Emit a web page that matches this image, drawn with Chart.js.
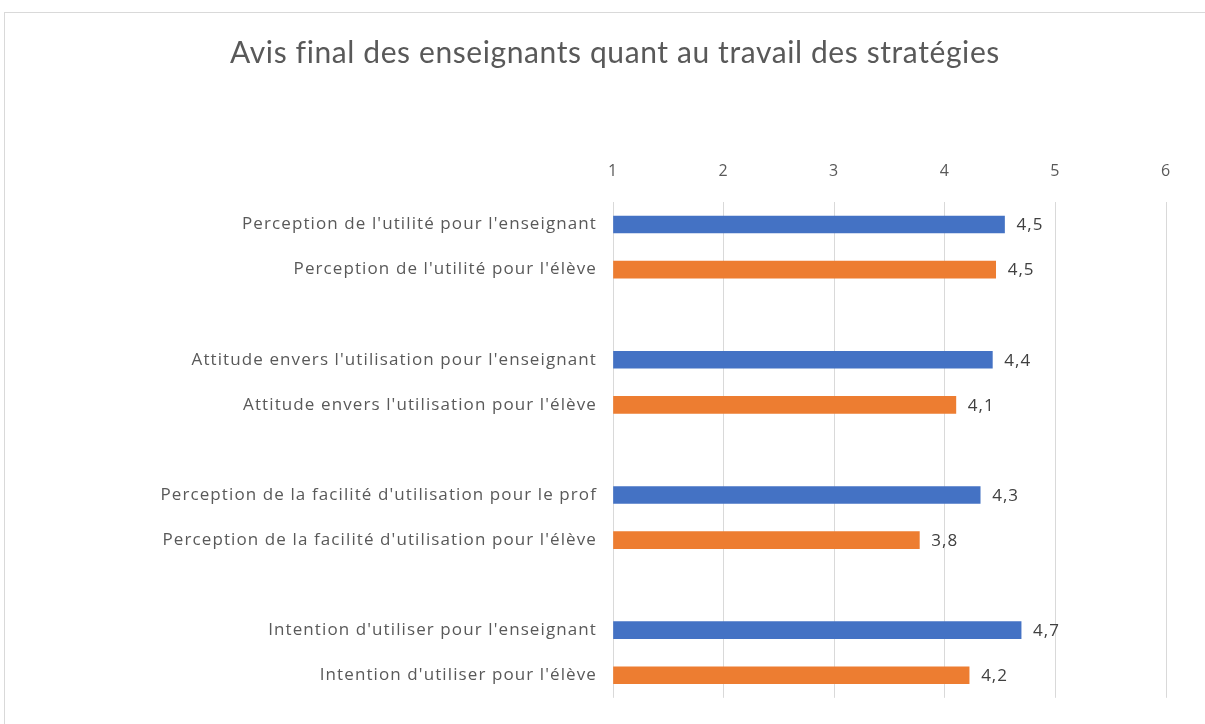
<!DOCTYPE html>
<html>
<head>
<meta charset="utf-8">
<script src="https://cdn.jsdelivr.net/npm/chart.js@4.4.1/dist/chart.umd.min.js"></script>
<style>
  html, body { margin: 0; padding: 0; background: #fff; }
  #wrap { position: relative; width: 1205px; height: 724px; overflow: hidden; }
  #frame { position: absolute; left: 4px; top: 12px; width: 1300px; height: 800px; border: 1px solid #d9d9d9; box-sizing: border-box; }
  #chart { position: absolute; left: 0; top: 0; }
</style>
</head>
<body>
<div id="wrap">
  <div id="frame"></div>
  <canvas id="chart" width="1205" height="724"></canvas>
</div>
<script>
// categories (empty strings are the gaps between groups)
const categories = [
    "Perception de l'utilité pour l'enseignant",
    "Perception de l'utilité pour l'élève",
    "",
    "Attitude envers l'utilisation pour l'enseignant",
    "Attitude envers l'utilisation pour l'élève",
    "",
    "Perception de la facilité d'utilisation pour le prof",
    "Perception de la facilité d'utilisation pour l'élève",
    "",
    "Intention d'utiliser pour l'enseignant",
    "Intention d'utiliser pour l'élève"
];
const scores = [4.54, 4.46, null, 4.43, 4.10, null, 4.32, 3.77, null, 4.69, 4.22];
const xTicks = [1, 2, 3, 4, 5, 6];
const chartTitle = 'Avis final des enseignants quant au travail des stratégies';

const BLUE = '#4472C4';
const ORANGE = '#ED7D31';
const TEXT = '#595959';

const barColors = categories.map(function(c) {
    return /l'élève/.test(c) ? ORANGE : BLUE;
});

// wider spacing for axis text, like the original rendering
const textSpacing = {
    id: 'textSpacing',
    beforeDraw: function(chart) {
        chart.ctx.letterSpacing = '1.1px';
    }
};

// title and value labels at the end of each bar
const overlayText = {
    id: 'overlayText',
    afterDatasetsDraw: function(chart) {
        const ctx = chart.ctx;
        const meta = chart.getDatasetMeta(0);
        ctx.save();
        ctx.letterSpacing = '1px';
        ctx.font = '17px "Open Sans", sans-serif';
        ctx.fillStyle = '#404040';
        ctx.textBaseline = 'middle';
        ctx.textAlign = 'left';
        meta.data.forEach(function(bar, i) {
            const v = scores[i];
            if (v === null) return;
            ctx.fillText(v.toFixed(1).replace('.', ','), bar.x + 12, bar.y + 1);
        });

        ctx.letterSpacing = '0.6px';
        ctx.font = '30px Lato, sans-serif';
        ctx.fillStyle = TEXT;
        ctx.textAlign = 'center';
        ctx.fillText(chartTitle, 615, 53);
        ctx.restore();
    }
};

new Chart(document.getElementById('chart'), {
    type: 'bar',
    data: {
        labels: categories,
        datasets: [{
            data: scores,
            base: 1,
            backgroundColor: barColors,
            borderColor: barColors,
            borderWidth: 0,
            barThickness: 17
        }]
    },
    options: {
        indexAxis: 'y',
        responsive: false,
        animation: false,
        layout: { padding: { left: 0, right: 39, top: 162, bottom: 22 } },
        plugins: {
            legend: { display: false },
            tooltip: { enabled: false },
            title: { display: false }
        },
        scales: {
            x: {
                type: 'linear',
                position: 'top',
                min: xTicks[0],
                max: xTicks[xTicks.length - 1],
                afterBuildTicks: function(scale) {
                    scale.ticks = xTicks.map(function(v) { return { value: v }; });
                },
                afterFit: function(scale) { scale.height = 40; },
                grid: { color: '#d9d9d9', lineWidth: 1, drawTicks: false },
                border: { display: false },
                ticks: {
                    color: TEXT,
                    padding: 21,
                    font: { family: '"Open Sans", sans-serif', size: 16 }
                }
            },
            y: {
                type: 'category',
                offset: true,
                afterFit: function(scale) { scale.width = 613; },
                grid: { display: false, drawTicks: false },
                border: { display: false },
                ticks: {
                    color: TEXT,
                    padding: 16,
                    autoSkip: false,
                    font: { family: '"Open Sans", sans-serif', size: 17 }
                }
            }
        }
    },
    plugins: [textSpacing, overlayText]
});
</script>
</body>
</html>
